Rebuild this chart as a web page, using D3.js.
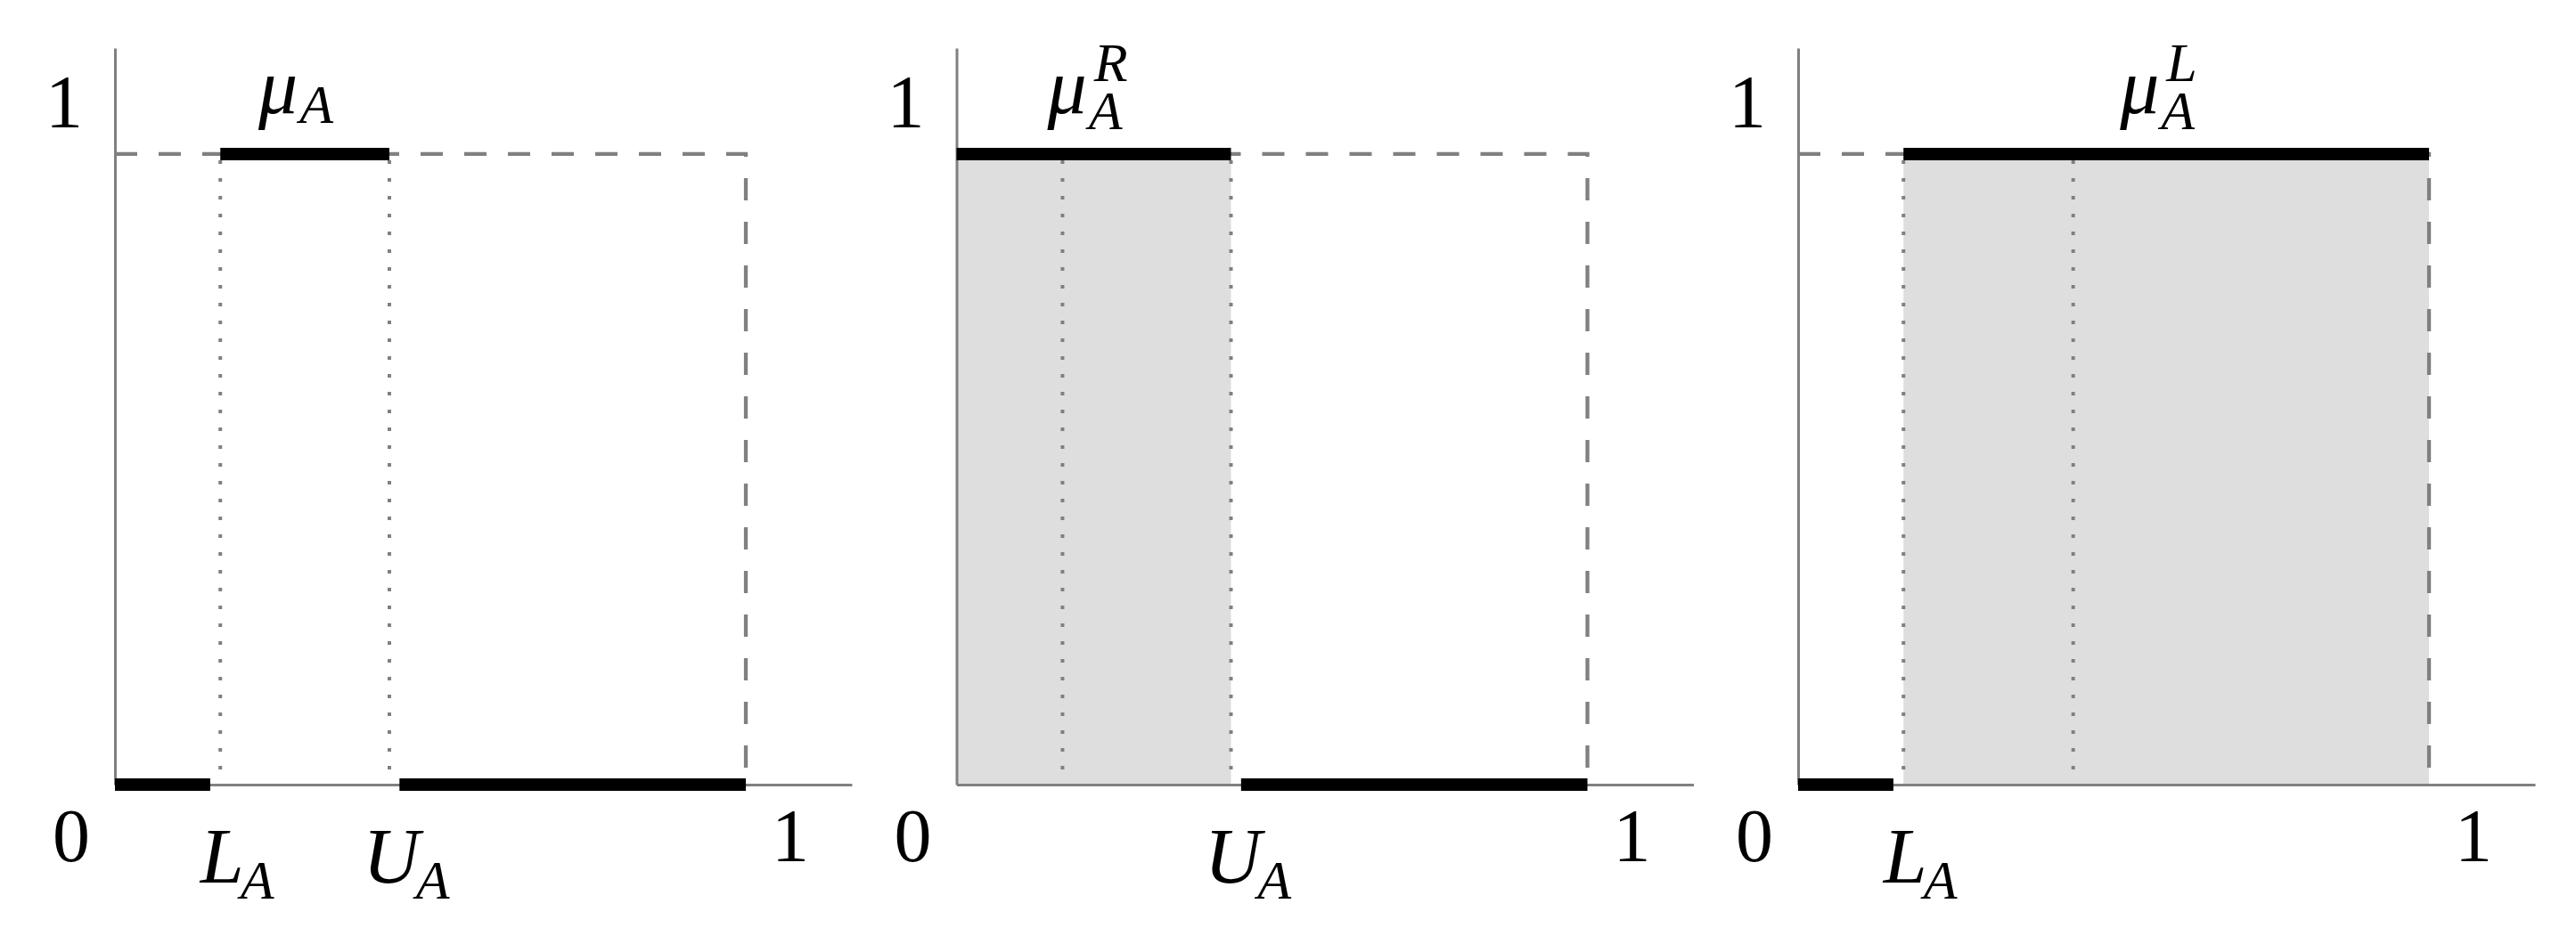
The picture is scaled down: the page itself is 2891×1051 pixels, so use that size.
<!DOCTYPE html>
<html>
<head>
<meta charset="utf-8">
<script src="https://d3js.org/d3.v7.min.js"></script>
<style>
body { margin: 0; background: #fff; }
text { font-family: 'Liberation Serif', 'DejaVu Serif', serif; fill: #000; }
</style>
</head>
<body>
<div id="chart"></div>
<script>

// values (x in [0,1], y in [0,1])
var L = 0.167;
var U = 0.435;
var axisMax = 1.168;
var topBars = [[L, U], [0, U], [L, 1]];
var bottomBars = [[[0, 0.151], [0.451, 1]], [[0.451, 1]], [[0, 0.151]]];
var shaded = [null, [0, U], [L, 1]];
var dotted = [[L, U], [0.168, U], [L, 0.436]];
var pointLabels = [[["L", L], ["U", U]], [["U", U]], [["L", L]]];
var supLabels = ["", "R", "L"];

var width = 2891;
var height = 1051;
var panelLeft = 129;
var panelStep = 944.5;
var bigFont = 84;
var mathFont = 88;
var smallFont = 62;
var grey = "#808080";

var svg = d3.select("#chart")
  .append("svg")
  .attr("width", width)
  .attr("height", height);

var x = d3.scaleLinear().domain([0, axisMax]).range([0, 827]);
var y = d3.scaleLinear().domain([0, axisMax]).range([881, 54]);

topBars.forEach(function (top, i) {
  var g = svg.append("g")
    .attr("transform", "translate(" + (panelLeft + i * panelStep) + ",0)");

  // shaded region
  if (shaded[i]) {
    g.append("rect")
      .attr("x", x(shaded[i][0]))
      .attr("y", y(1))
      .attr("width", x(shaded[i][1]) - x(shaded[i][0]))
      .attr("height", y(0) - y(1))
      .style("fill", "#dedede");
  }

  // dashed unit square (top and right side)
  g.append("path")
    .attr("d", "M" + x(0) + "," + y(1) + "H" + x(1) + "V" + y(0))
    .style("fill", "none")
    .style("stroke", grey)
    .style("stroke-width", 4.3)
    .style("stroke-dasharray", "25,24");

  // dotted guides at L and U
  g.selectAll(".dot")
    .data(dotted[i])
    .enter()
    .append("line")
    .attr("x1", d => x(d))
    .attr("x2", d => x(d))
    .attr("y1", y(1) + 7)
    .attr("y2", y(0))
    .style("stroke", grey)
    .style("stroke-width", 4)
    .style("stroke-dasharray", "4,16");

  // axes
  g.append("g")
    .attr("transform", "translate(0," + y(0) + ")")
    .call(d3.axisBottom(x).tickValues([]).tickSizeOuter(0));
  g.append("g")
    .attr("transform", "translate(" + x(0) + ",0)")
    .call(d3.axisLeft(y).tickValues([]).tickSizeOuter(0));
  g.selectAll(".domain")
    .style("stroke", grey)
    .style("stroke-width", 3);

  // bold intervals
  g.selectAll(".bottom")
    .data(bottomBars[i])
    .enter()
    .append("line")
    .attr("x1", d => x(d[0]))
    .attr("x2", d => x(d[1]))
    .attr("y1", y(0))
    .attr("y2", y(0))
    .style("stroke", "#000")
    .style("stroke-width", 14);

  g.append("line")
    .attr("x1", x(top[0]))
    .attr("x2", x(top[1]))
    .attr("y1", y(1))
    .attr("y2", y(1))
    .style("stroke", "#000")
    .style("stroke-width", 14);

  // tick labels
  g.append("text")
    .attr("x", x(0) - 36)
    .attr("y", y(1) - 30)
    .attr("text-anchor", "end")
    .style("font-size", bigFont + "px")
    .text("1");
  g.append("text")
    .attr("x", x(0) - 49)
    .attr("y", y(0) + 86)
    .attr("text-anchor", "middle")
    .style("font-size", bigFont + "px")
    .text("0");
  g.append("text")
    .attr("x", x(1) + 50)
    .attr("y", y(0) + 86)
    .attr("text-anchor", "middle")
    .style("font-size", bigFont + "px")
    .text("1");

  // L_A / U_A labels: main letter centred on its guide
  pointLabels[i].forEach(function (p) {
    var t = g.append("text")
      .attr("y", y(0) + 110)
      .style("font-style", "italic");
    var main = t.append("tspan")
      .style("font-size", mathFont + "px")
      .text(p[0]);
    var w = main.node().getComputedTextLength();
    t.attr("x", x(p[1]) - w / 2 + 2);
    t.append("tspan")
      .attr("dx", -4)
      .attr("dy", 18)
      .style("font-size", smallFont + "px")
      .text("A");
  });

  // mu labels above the top bar (one text element per label)
  var mid = (x(top[0]) + x(top[1])) / 2;
  var mx = mid - 52;
  var t = g.append("text")
    .attr("x", mx)
    .attr("y", y(1) - 46)
    .style("font-style", "italic");
  var mu = t.append("tspan")
    .style("font-size", mathFont + "px")
    .text("\u03bc");
  var mw = mu.node().getComputedTextLength();
  var subDrop = supLabels[i] ? 18 : 11;
  t.append("tspan")
    .attr("dx", 2)
    .attr("dy", subDrop)
    .style("font-size", smallFont + "px")
    .text("A");
  if (supLabels[i]) {
    t.append("tspan")
      .attr("x", mx + mw + 8)
      .attr("dy", -subDrop - 36)
      .style("font-size", smallFont + "px")
      .text(supLabels[i]);
  }
});

</script>
</body>
</html>
